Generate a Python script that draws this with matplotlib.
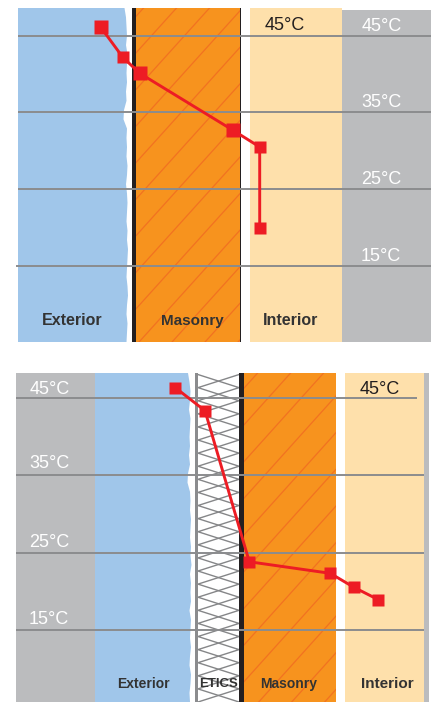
"""Temperature profile through a wall: bare masonry vs. masonry with ETICS."""

import numpy as np
import matplotlib
matplotlib.use("Agg")
import matplotlib.pyplot as plt
from matplotlib.patches import Polygon

plt.rcParams["font.family"] = ["Liberation Sans", "DejaVu Sans"]

W, H = 434, 702
BLUE = "#a0c6ea"
ORANGE = "#f7931e"
HATCH = "#f27221"
CREAM = "#fee0ab"
GRAY = "#bbbcbe"
LINE = "#8b8c8e"
RED = "#ed1c24"
BLACK = "#231f20"
DARK = "#333333"

temp_ticks = [45, 35, 25, 15]
tick_labels = ["45°C", "35°C", "25°C", "15°C"]

# top panel: depth through the wall (px across figure), temperature in C
top_depth = [100.7, 122.7, 139.7, 232.7, 259.7, 259.7]
top_temp = [46.1, 42.2, 40.1, 32.7, 30.5, 20.0]
top_sizes = [9.4, 9.0, 9.4, 9.8, 8.2, 8.0]

# bottom panel
bot_depth = [175.3, 205.0, 249.3, 330.3, 353.7, 378.0]
bot_temp = [46.4, 43.4, 23.8, 22.3, 20.5, 18.9]
bot_sizes = [8.6, 8.6, 8.6, 8.6, 8.2, 8.0]

# rough render edge of the exterior layer, sampled top to bottom
top_edge = [124.5, 126, 126.5, 127, 126, 127.5, 127, 126.5, 127, 126, 126.5, 124, 123.5, 127, 126.5,
            127, 126.5, 127.5, 127, 126, 127, 127.5, 127, 126.5, 127.5, 127, 128, 127.5, 127, 126.5,
            127.5, 128, 127, 126.5, 127.5, 127, 126.5]
bot_edge = [188, 189.5, 190.5, 190, 189, 190.5, 190, 189.5, 190, 189, 190, 188, 187.5, 190, 190.5,
            190, 191, 190.5, 190, 191, 190.5, 191.5, 190, 191, 190.5, 191, 189.5, 191, 190.5, 190,
            191, 190, 189.5, 191, 190.5, 189.5, 190]


def make_axes(y0, y1, t_top, t_bot):
    ax = fig.add_axes([0, 1 - y1 / H, 1, (y1 - y0) / H])
    ax.set_xlim(0, W)
    ax.set_ylim(t_bot, t_top)
    ax.axis("off")
    return ax


def band(ax, x0, x1, color, z=1, ymax=1):
    ax.axvspan(x0, x1, ymax=ymax, color=color, lw=0, zorder=z)


def rough_band(ax, x0, edge, color):
    t0, t1 = ax.get_ylim()
    ys = np.linspace(t1, t0, len(edge))
    pts = [(x0, t1)] + list(zip(edge, ys)) + [(x0, t0)]
    ax.add_patch(Polygon(pts, closed=True, fc=color, ec="none", zorder=1))


def masonry(ax, x0, x1, phase):
    # diagonal brick hatch, clipped to the masonry band
    t0, t1 = ax.get_ylim()
    patch = ax.axvspan(x0, x1, color=ORANGE, lw=0, zorder=1)
    span = (t1 - t0) * 7.7
    for start in np.arange(x0 - span + phase, x1 + span, 33):
        ln, = ax.plot([start, start + span * 0.9], [t0, t1], color=HATCH, lw=0.9, zorder=2)
        ln.set_clip_path(patch)


def insulation(ax, x0, x1):
    t0, t1 = ax.get_ylim()
    ys = np.arange(t0, t1, 1.7)
    a = np.where(np.arange(len(ys)) % 2 == 0, x0, x1)
    b = np.where(np.arange(len(ys)) % 2 == 0, x1, x0)
    ax.plot(a, ys, color="#858688", lw=1.0, zorder=2)
    ax.plot(b, ys, color="#858688", lw=1.0, zorder=2)


def grid(ax, x0, x1):
    for i, t in enumerate(temp_ticks):
        ax.plot([x0[i], x1[i]], [t, t], color=LINE, lw=1.4, zorder=4, solid_capstyle="butt")


def profile(ax, xs, ys, sizes):
    ax.plot(xs, ys, color=RED, lw=2.1, zorder=5)
    for x, y, s in zip(xs, ys, sizes):
        ax.plot([x], [y], ls="none", marker="s", ms=s, mfc=RED, mec="none", zorder=6)


fig = plt.figure(figsize=(W / 100, H / 100), dpi=100, facecolor="white")

# --- top: bare masonry
ax = make_axes(8, 342, 48.6, 5.1)
rough_band(ax, 18, top_edge, BLUE)
masonry(ax, 136, 240, 8)
band(ax, 132, 136, BLACK, 3)
band(ax, 239.7, 241.3, BLACK, 3)
band(ax, 250, 342, CREAM)
band(ax, 342, 431, GRAY, ymax=0.994)
grid(ax, [18, 18, 18, 16], [431, 431, 431, 431])
profile(ax, top_depth, top_temp, top_sizes)
for t, lab, x, dy in zip(temp_ticks, tick_labels, [382, 381, 381, 381], [1.24, 1.35, 1.3, 1.3]):
    ax.text(x, t + dy, lab, color="white", fontsize=13, ha="center", va="center", zorder=7)
ax.text(285, 45 + 1.37, "45°C", color=BLACK, fontsize=13, ha="center", va="center", zorder=7)
ax.text(72, 7.85, "Exterior", color=DARK, fontsize=11.5, weight="bold", ha="center", va="center", zorder=7)
ax.text(192, 7.85, "Masonry", color=DARK, fontsize=11, weight="bold", ha="center", va="center", zorder=7)
ax.text(290.5, 7.85, "Interior", color=DARK, fontsize=11.5, weight="bold", ha="center", va="center", zorder=7)

# --- bottom: with ETICS
ax = make_axes(373, 702, 48.3, 5.6)
band(ax, 16, 95, GRAY)
rough_band(ax, 95, bot_edge, BLUE)
insulation(ax, 198, 239)
band(ax, 195, 198, LINE, 3)
masonry(ax, 243.5, 336, 14)
band(ax, 239, 243.5, BLACK, 3)
band(ax, 344.5, 424, CREAM)
band(ax, 424, 429, GRAY)
grid(ax, [16, 16, 16, 16], [417, 424, 424, 424])
profile(ax, bot_depth, bot_temp, bot_sizes)
for t, lab, x, dy in zip(temp_ticks, tick_labels, [50, 49, 49, 49], [1.15, 1.56, 1.35, 1.3]):
    ax.text(x, t + dy, lab, color="white", fontsize=13, ha="center", va="center", zorder=7)
ax.text(380, 45 + 1.15, "45°C", color=BLACK, fontsize=13, ha="center", va="center", zorder=7)
ax.text(143.5, 7.95, "Exterior", color=DARK, fontsize=10, weight="bold", ha="center", va="center", zorder=7)
ax.text(218.5, 7.95, "ETICS", color=DARK, fontsize=9.5, weight="bold", ha="center", va="center", zorder=7)
ax.text(289, 7.95, "Masonry", color=DARK, fontsize=10, weight="bold", ha="center", va="center", zorder=7)
ax.text(387, 7.95, "Interior", color=DARK, fontsize=11, weight="bold", ha="center", va="center", zorder=7)

fig.savefig("out.png", dpi=100)
plt.close(fig)
